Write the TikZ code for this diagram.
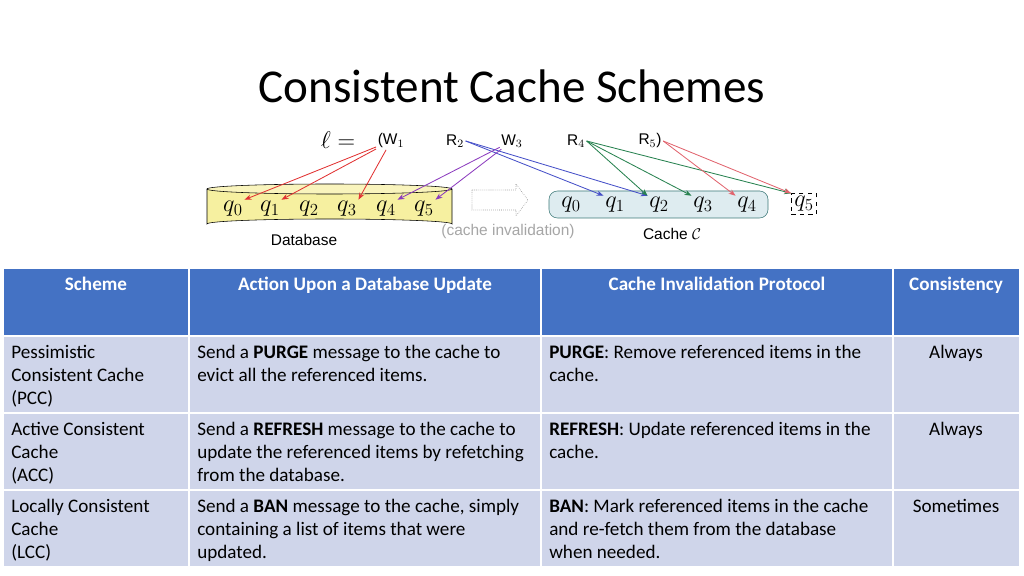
\documentclass[tikz,border=0pt]{standalone}
\usepackage{fontspec}
\setmainfont{Carlito}
\newfontfamily\arialfont{Liberation Sans}
\usetikzlibrary{positioning,shapes.geometric,arrows.meta,calc}
\definecolor{headblue}{RGB}{68,114,196}
\definecolor{rowblue}{RGB}{207,213,234}
\definecolor{dbyellow}{RGB}{246,240,160}
\definecolor{cachefill}{RGB}{222,236,240}
\definecolor{cacheline}{RGB}{60,120,120}
\definecolor{wred}{RGB}{225,50,50}
\definecolor{rblue}{RGB}{70,80,200}
\definecolor{wpurple}{RGB}{140,60,190}
\definecolor{rgreen}{RGB}{40,130,80}
\definecolor{rpink}{RGB}{225,100,110}

\begin{document}
\begin{tikzpicture}[x=0.025cm, y=-0.025cm,
    qlab/.style={inner sep=1pt, font=\fontsize{17}{20}\selectfont},
    seqlab/.style={font=\arialfont\fontsize{11}{13}\selectfont, inner sep=1pt},
    ref/.style={-{Stealth[length=5pt]}, semithick},
    head/.style={fill=headblue, draw=white, line width=1pt},
    row/.style={fill=rowblue, draw=white, line width=1pt},
    cell/.style={anchor=north west, align=left, font=\fontsize{13.6}{16.3}\selectfont, inner sep=0pt},
    hcell/.style={anchor=north, text=white, font=\fontsize{13.6}{16}\selectfont\bfseries, inner sep=0pt},
]
    \useasboundingbox (0,0) rectangle (1024,576);

    % Title
    \node[font=\fontsize{33.5}{38}\selectfont] (title) at (512,86) {Consistent Cache Schemes};

    % Database cylinder
    \fill[dbyellow] (207,189) -- (207,224) arc[start angle=180, end angle=360, x radius=122.5, y radius=5] -- (452,189) -- cycle;
    \draw (207,189) -- (207,224) arc[start angle=180, end angle=360, x radius=122.5, y radius=5] -- (452,189);
    \draw[fill=dbyellow!70] (329.5,189) ellipse[x radius=122.5, y radius=5];
    \foreach \i/\x in {0/233,1/270,2/309,3/347,4/386,5/424}
        \node[qlab] (d\i) at (\x,209) {$q_{\i}$};
    \node[font=\arialfont\fontsize{11}{13}\selectfont] (dbname) at (304,240) {Database};

    % Cache
    \draw[cacheline, fill=cachefill, rounded corners=6pt] (549,191) rectangle (768,218);
    \foreach \i/\x in {0/571,1/615,2/659,3/703,4/747}
        \node[qlab] (c\i) at (\x,205) {$q_{\i}$};
    \node[qlab, draw, dashed, inner sep=2pt] (c5) at (804,204) {$q_{5}$};
    \node[font=\arialfont\fontsize{11}{13}\selectfont] (cachename) at (672,234) {Cache $\mathcal{C}$};

    % invalidation arrow
    \draw[gray, densely dotted, fill=white] (472,190) -- (516,190) -- (516,184) -- (528,200) -- (516,216) -- (516,210) -- (472,210) -- cycle;
    \node[font=\arialfont\fontsize{11}{13}\selectfont, text=gray!70] (inval) at (508,231) {(cache invalidation)};

    % request sequence
    \node[font=\fontsize{19}{22}\selectfont] (ell) at (338,140) {$\ell =$};
    \node[seqlab] (w1) at (391,141) {(W$_1$};
    \node[seqlab] (r2) at (455,141) {R$_2$};
    \node[seqlab] (w3) at (512,141) {W$_3$};
    \node[seqlab] (r4) at (576,141) {R$_4$};
    \node[seqlab] (r5) at (650,141) {R$_5$)};

    % references
    \foreach \t in {d0,d1,d3}
        \draw[ref, wred] (w1) -- (\t.north east);
    \foreach \t in {c1,c2}
        \draw[ref, rblue] (r2.east) -- (\t.north west);
    \foreach \t in {d4,d5}
        \draw[ref, wpurple] (w3) -- (\t.north east);
    \foreach \t in {c2,c3,c5}
        \draw[ref, rgreen] (r4.east) -- (\t.north west);
    \foreach \t in {c4,c5}
        \draw[ref, rpink] (r5.east) -- (\t.north west);

    % Table
    \draw[head] (3,268) rectangle (189,336);
    \draw[head] (189,268) rectangle (541,336);
    \draw[head] (541,268) rectangle (893,336);
    \draw[head] (893,268) rectangle (1020,336);
    \foreach \ya/\yb in {336/413,413/490,490/567}
        \foreach \xa/\xb in {3/189,189/541,541/893,893/1020}
            \draw[row] (\xa,\ya) rectangle (\xb,\yb);

    \node[hcell] (h1) at (96,277) {Scheme};
    \node[hcell] (h2) at (365,277) {Action Upon a Database Update};
    \node[hcell] (h3) at (717,277) {Cache Invalidation Protocol};
    \node[hcell] (h4) at (956,277) {Consistency};

    \node[cell] (s1) at (11,345) {Pessimistic\\Consistent Cache\\(PCC)};
    \node[cell] (a1) at (197,345) {Send a \textbf{PURGE} message to the cache to\\evict all the referenced items.};
    \node[cell] (p1) at (549,345) {\textbf{PURGE}: Remove referenced items in the\\cache.};
    \node[cell, anchor=north] (k1) at (956,345) {Always};

    \node[cell] (s2) at (11,422) {Active Consistent\\Cache\\(ACC)};
    \node[cell] (a2) at (197,422) {Send a \textbf{REFRESH} message to the cache to\\update the referenced items by refetching\\from the database.};
    \node[cell] (p2) at (549,422) {\textbf{REFRESH}: Update referenced items in the\\cache.};
    \node[cell, anchor=north] (k2) at (956,422) {Always};

    \node[cell] (s3) at (11,499) {Locally Consistent\\Cache\\(LCC)};
    \node[cell] (a3) at (197,499) {Send a \textbf{BAN} message to the cache, simply\\containing a list of items that were\\updated.};
    \node[cell] (p3) at (549,499) {\textbf{BAN}: Mark referenced items in the cache\\and re-fetch them from the database\\when needed.};
    \node[cell, anchor=north] (k3) at (956,499) {Sometimes};
\end{tikzpicture}
\end{document}
